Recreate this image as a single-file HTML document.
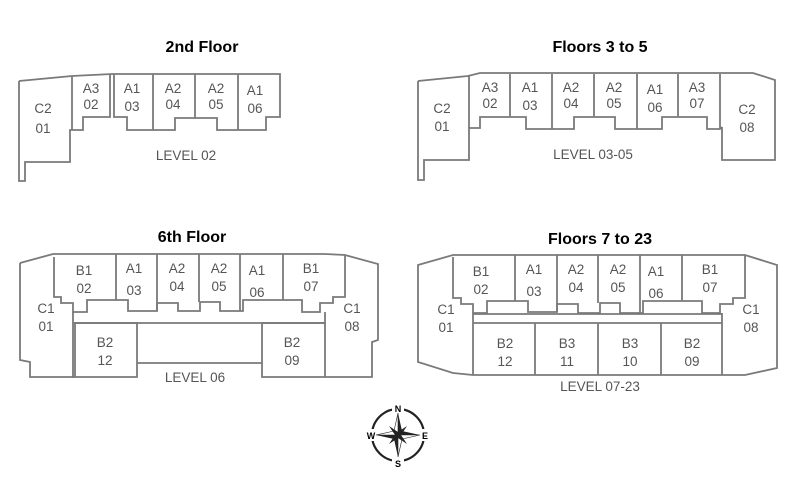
<!DOCTYPE html>
<html><head><meta charset="utf-8"><style>
html,body{margin:0;padding:0;background:#fff;}
svg{display:block;}
.t{font-family:"Liberation Sans",Arial,sans-serif;font-weight:bold;font-size:16px;fill:#000;text-anchor:middle;}
.l{font-family:"Liberation Sans",Arial,sans-serif;font-size:13.5px;fill:#555;text-anchor:middle;}
.w{fill:none;stroke:#7a7a7a;stroke-width:1.8;stroke-linejoin:miter;}
</style></head><body>
<svg width="800" height="482" viewBox="0 0 800 482">
<text class="t" x="202" y="52">2nd Floor</text>
<text class="t" x="600" y="52">Floors 3 to 5</text>
<text class="t" x="192" y="242">6th Floor</text>
<text class="t" x="600" y="244">Floors 7 to 23</text>

<!-- Level 02 -->
<g class="w">
<path d="M19,81 L72,76 L112,74 L280,74 L280,117 L266,117 L266,130 L240,130 L217,130 L217,118 L195,118 L175,118 L175,130 L153,130 L127,130 L127,117 L114,117 L114,74"/>
<path d="M19,81 L19,181 L25,181 L25,162 L70,162 L70,130 L83,130 L83,117 L110,117 L110,75"/>
<path d="M72,76 L72,130"/>
<path d="M153,74 L153,130 M195,74 L195,118 M238,74 L238,130"/>
</g>
<g class="l">
<text x="43" y="113">C2</text><text x="43" y="133">01</text>
<text x="91" y="93">A3</text><text x="91" y="109">02</text>
<text x="132" y="93">A1</text><text x="132" y="111">03</text>
<text x="173" y="93">A2</text><text x="173" y="109">04</text>
<text x="216" y="93">A2</text><text x="216" y="109">05</text>
<text x="255" y="95">A1</text><text x="255" y="113">06</text>
<text x="186" y="160">LEVEL 02</text>
</g>

<!-- Level 03-05 -->
<g class="w">
<path d="M418,81 L468,76 L480,73 L753,73 L775,80 L775,160 L722,160 L722,127"/>
<path d="M418,81 L418,180 L424,180 L424,160 L469,160 L469,128 L480,128 L480,117 L510,117 L526,117 L526,129 L552,129 L574,129 L574,117 L594,117 L615,117 L615,129 L637,129 L662,129 L662,117 L678,117 L707,117 L707,129 L720,129 L722,127"/>
<path d="M469,76 L469,128 M510,74 L510,117 M552,74 L552,129 M594,74 L594,117 M637,74 L637,129 M678,74 L678,117 M720,74 L720,129"/>
</g>
<g class="l">
<text x="442" y="113">C2</text><text x="442" y="131">01</text>
<text x="490" y="92">A3</text><text x="490" y="108">02</text>
<text x="530" y="92">A1</text><text x="530" y="110">03</text>
<text x="571" y="92">A2</text><text x="571" y="108">04</text>
<text x="614" y="92">A2</text><text x="614" y="108">05</text>
<text x="655" y="94">A1</text><text x="655" y="112">06</text>
<text x="697" y="92">A3</text><text x="697" y="108">07</text>
<text x="747" y="114">C2</text><text x="747" y="132">08</text>
<text x="593" y="159">LEVEL 03-05</text>
</g>

<!-- Level 06 -->
<g class="w">
<path d="M20,263 L53,254 L325,254 L345,255 L378,264 L378,340 L372,342 L372,377 L325,377 L325,323 L262,323 L262,377 L325,377"/>
<path d="M20,263 L20,360 L30,362 L30,377 L75,377 L75,323 L137,323 L137,377 L75,377"/>
<path d="M137,363 L262,363"/>
<path d="M73,323 L325,323"/>
<path d="M54,257 L54,297 L61,297 L61,303 L73,303 L73,312 L87,312 L87,300 L116,300 L128,300 L128,311 L157,311 L157,303 L178,303 L178,311 L200,311 L200,302 L220,302 L220,311 L243,311 L243,300 L270,300 L302,300 L302,312 L320,312 L320,303 L333,303 L333,297 L345,297 L345,255"/>
<path d="M73,312 L73,378 M325,312 L325,323"/>
<path d="M116,254 L116,300 M157,254 L157,311 M199,254 L199,302 M240,254 L240,311 M283,254 L283,300"/>
</g>
<g class="l">
<text x="46" y="313">C1</text><text x="46" y="331">01</text>
<text x="84" y="275">B1</text><text x="84" y="293">02</text>
<text x="134" y="273">A1</text><text x="134" y="295">03</text>
<text x="177" y="273">A2</text><text x="177" y="291">04</text>
<text x="219" y="273">A2</text><text x="219" y="291">05</text>
<text x="257" y="275">A1</text><text x="257" y="297">06</text>
<text x="311" y="273">B1</text><text x="311" y="291">07</text>
<text x="352" y="313">C1</text><text x="352" y="331">08</text>
<text x="105" y="347">B2</text><text x="105" y="365">12</text>
<text x="292" y="347">B2</text><text x="292" y="365">09</text>
<text x="195" y="382">LEVEL 06</text>
</g>

<!-- Level 07-23 -->
<g class="w">
<path d="M418,265 L453,255 L745,255 L777,265 L777,368 L745,375 L473,375 L453,373 L418,362 Z"/>
<path d="M453,257 L453,298 L461,298 L461,304 L473,304 L473,313 L487,313 L487,301 L516,301 L528,301 L528,312 L557,312 L557,304 L578,304 L578,313 L600,313 L600,303 L620,303 L620,313 L643,313 L643,301 L670,301 L702,301 L702,313 L720,313 L720,304 L733,304 L733,298 L745,298 L745,255"/>
<path d="M473,313 L473,375 M722,313 L722,375"/>
<path d="M473,314 L722,314 M473,323 L722,323"/>
<path d="M535,323 L535,375 M598,323 L598,375 M661,323 L661,375"/>
<path d="M515,255 L515,301 M557,255 L557,312 M598,255 L598,303 M640,255 L640,313 M682,255 L682,301"/>
</g>
<g class="l">
<text x="446" y="314">C1</text><text x="446" y="332">01</text>
<text x="481" y="276">B1</text><text x="481" y="294">02</text>
<text x="534" y="274">A1</text><text x="534" y="296">03</text>
<text x="576" y="274">A2</text><text x="576" y="292">04</text>
<text x="618" y="274">A2</text><text x="618" y="292">05</text>
<text x="656" y="276">A1</text><text x="656" y="298">06</text>
<text x="710" y="274">B1</text><text x="710" y="292">07</text>
<text x="751" y="314">C1</text><text x="751" y="332">08</text>
<text x="505" y="348">B2</text><text x="505" y="366">12</text>
<text x="567" y="348">B3</text><text x="567" y="366">11</text>
<text x="630" y="348">B3</text><text x="630" y="366">10</text>
<text x="692" y="348">B2</text><text x="692" y="366">09</text>
<text x="600" y="391">LEVEL 07-23</text>
</g>

<!-- Compass -->
<g transform="translate(398,435)">
<circle r="26" fill="none" stroke="#222" stroke-width="2.2"/>
<rect x="-6" y="-33" width="12" height="10" fill="#fff"/>
<rect x="-6" y="23" width="12" height="10" fill="#fff"/>
<rect x="-33" y="-6" width="10" height="12" fill="#fff"/>
<rect x="23" y="-6" width="10" height="12" fill="#fff"/>
<polygon points="0,-22 4,-4 22,0 4,4 0,22 -4,4 -22,0 -4,-4" fill="#222"/>
<polygon points="0,-22 0,0 -22,0 -4,-4" fill="#fff" stroke="#222" stroke-width="0.6"/>
<polygon points="0,22 0,0 22,0 4,4" fill="#fff" stroke="#222" stroke-width="0.6"/>
<polygon points="-9,-9 0,-3 9,-9 3,0 9,9 0,3 -9,9 -3,0" fill="#222"/>
<text x="0" y="-23" font-family="Liberation Sans,sans-serif" font-weight="bold" font-size="9" text-anchor="middle">N</text>
<text x="0" y="32" font-family="Liberation Sans,sans-serif" font-weight="bold" font-size="9" text-anchor="middle">S</text>
<text x="-27" y="4" font-family="Liberation Sans,sans-serif" font-weight="bold" font-size="9" text-anchor="middle">W</text>
<text x="27" y="4" font-family="Liberation Sans,sans-serif" font-weight="bold" font-size="9" text-anchor="middle">E</text>
</g>
</svg>
</body></html>
